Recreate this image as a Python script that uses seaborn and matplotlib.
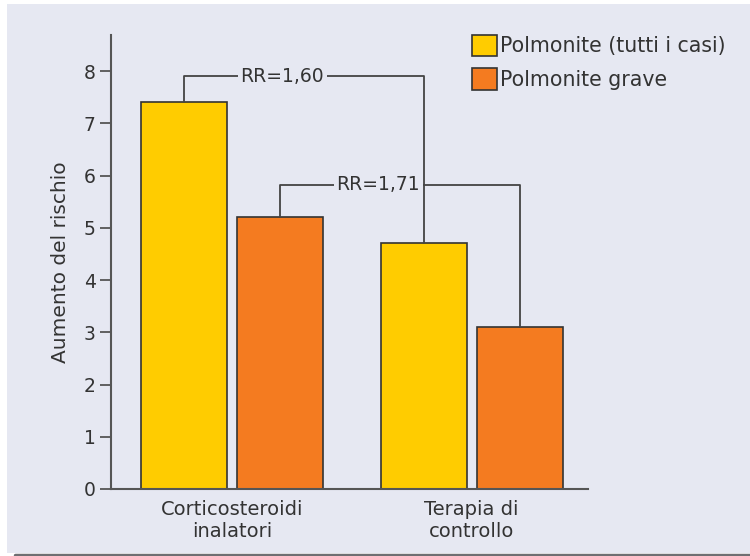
import matplotlib.pyplot as plt
import matplotlib.patches as mpatches
from matplotlib.lines import Line2D
import seaborn as sns
import pandas as pd

# data
groups = ["Corticosteroidi\ninalatori", "Terapia di\ncontrollo"]
series = ["Polmonite (tutti i casi)", "Polmonite grave"]
all_cases = [7.4, 4.7]
severe = [5.2, 3.1]
rr_labels = ["RR=1,60", "RR=1,71"]
rr_heights = [7.9, 5.82]

bg = "#e6e8f2"
colors = ["#ffcc00", "#f47b20"]
line_col = "#444444"

df = pd.DataFrame({
    "group": groups * 2,
    "series": [series[0]] * 2 + [series[1]] * 2,
    "value": all_cases + severe,
})

sns.set_style("white")
plt.rcParams["font.family"] = ["DejaVu Sans"]

fig = plt.figure(figsize=(7.5, 5.56), dpi=100)
fig.patch.set_facecolor("white")
fig.add_artist(mpatches.Rectangle((7 / 750, 3 / 556), 743 / 750, 549 / 556,
                                  transform=fig.transFigure, facecolor=bg,
                                  edgecolor="none", zorder=-10))
fig.add_artist(Line2D([15 / 750, 1], [1.5 / 556, 1.5 / 556], transform=fig.transFigure,
                      color="#6e6e72", linewidth=2.5))

ax = fig.add_axes([111 / 750, 67 / 556, 477 / 750, 454 / 556])
ax.set_facecolor(bg)
ax.patch.set_alpha(0)

sns.barplot(data=df, x="group", y="value", hue="series", palette=colors,
            saturation=1, width=0.8, gap=0.1, edgecolor="#333333", linewidth=1.2,
            legend=False, ax=ax)

ax.set_xlim(-0.505, 1.485)
ax.set_ylim(0, 8.69)
ax.set_yticks(range(9))
ax.set_xlabel("")
ax.set_ylabel("Aumento del rischio", fontsize=14.5, color="#333333", labelpad=10)

for s in ["top", "right"]:
    ax.spines[s].set_visible(False)
for s in ["left", "bottom"]:
    ax.spines[s].set_color("#555555")
    ax.spines[s].set_linewidth(1.5)
ax.tick_params(axis="y", direction="out", length=8, width=1.3, color="#555555",
               labelsize=13.5, labelcolor="#333333", pad=3, left=True)
ax.tick_params(axis="x", length=0, labelsize=14, labelcolor="#333333", pad=8)

# RR brackets: each joins the same series across the two groups
offsets = [-0.2, 0.2]
for i, (vals, lab, h) in enumerate(zip([all_cases, severe], rr_labels, rr_heights)):
    x0 = 0 + offsets[i]
    x1 = 1 + offsets[i]
    ax.plot([x0, x0, x1, x1], [vals[0], h, h, vals[1]], color=line_col,
            linewidth=1.3, zorder=3)
    ax.text((x0 + x1) / 2 - 0.09, h, lab, ha="center", va="center", fontsize=13.5,
            color="#333333", zorder=4,
            bbox=dict(facecolor=bg, edgecolor="none", pad=2))

handles = [mpatches.Patch(facecolor=c, edgecolor="#333333", linewidth=1.2) for c in colors]
fig.legend(handles, series, loc="upper left", bbox_to_anchor=(453 / 750, 1 - 16 / 556),
           frameon=False, fontsize=14.8, handlelength=1.22, handleheight=1.22,
           handletextpad=0.15, labelspacing=0.6, labelcolor="#333333")

fig.savefig("out.png", dpi=100, facecolor="white")
